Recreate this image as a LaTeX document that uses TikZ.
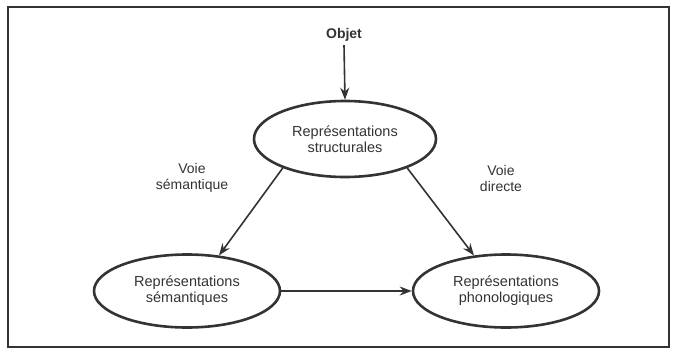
\documentclass[tikz,border=0pt]{standalone}
\usepackage{fontspec}
\setmainfont{Liberation Sans}
\usetikzlibrary{shapes.geometric,arrows.meta}
\definecolor{ink}{HTML}{333333}
\begin{document}
\begin{tikzpicture}[x=1pt,y=-1pt,
  rep/.style={ellipse,draw=ink,line width=2.6pt,minimum width=186pt,minimum height=73pt,inner sep=0pt,align=center,font=\fontsize{14.5}{16}\selectfont,text=ink},
  lab/.style={align=center,font=\fontsize{14}{16}\selectfont,text=ink},
  arr/.style={draw=ink,line width=1.6pt,-{Stealth[length=12pt,width=9pt]}}]
\useasboundingbox (0,0) rectangle (675,351);
\draw[ink,line width=2pt] (8,7) rectangle (669,347);
\node[lab,font=\bfseries\fontsize{14}{16}\selectfont] (obj) at (344,35) {Objet};
\node[rep,minimum width=182pt,minimum height=76pt] (s) at (345,139) {Représentations\\structurales};
\node[rep] (m) at (187,291) {Représentations\\sémantiques};
\node[rep] (p) at (506,291) {Représentations\\phonologiques};
\node[lab] (vs) at (192,178) {Voie\\sémantique};
\node[lab] (vd) at (501,178) {Voie\\directe};
\draw[arr] (obj.south) -- (s.north);
\draw[arr] (s.-155) -- (m.48);
\draw[arr] (s.-25) -- (p.132);
\draw[arr] (m.east) -- (p.west);
\end{tikzpicture}
\end{document}
